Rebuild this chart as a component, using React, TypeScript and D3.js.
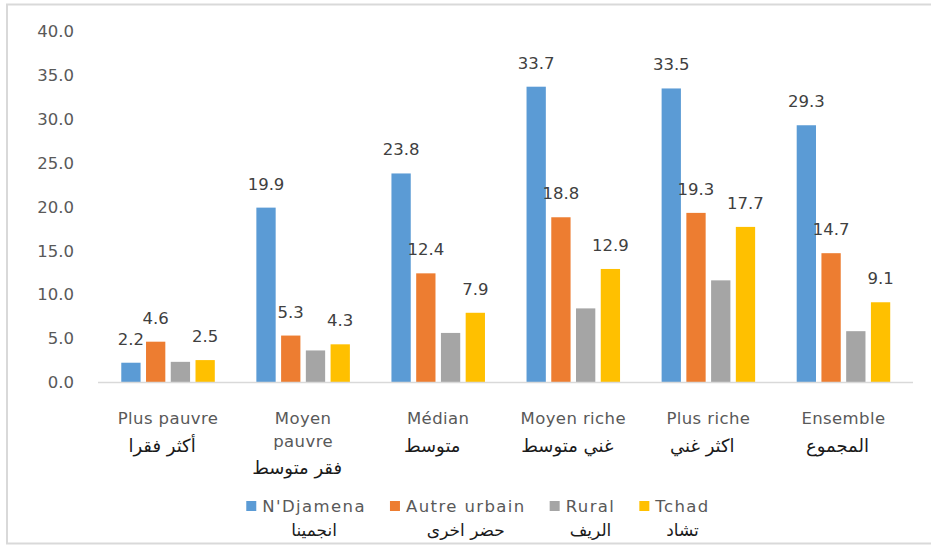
import React, { useRef, useEffect } from "react";
import * as d3 from "d3";

// catégories (français / arabe)
const categories = ["Plus pauvre", "Moyen pauvre", "Médian", "Moyen riche", "Plus riche", "Ensemble"];
const categoriesAr = ["أكثر فقرا", "فقر متوسط", "متوسط", "غني متوسط", "اكثر غني", "المجموع"];

// séries
const seriesNames = ["N'Djamena", "Autre urbain", "Rural", "Tchad"];
const seriesNamesAr = ["انجمينا", "حضر اخرى", "الريف", "تشاد"];
const seriesColors = ["#5B9BD5", "#ED7D31", "#A5A5A5", "#FFC000"];

const ndjamena = [2.2, 19.9, 23.8, 33.7, 33.5, 29.3];
const autreUrbain = [4.6, 5.3, 12.4, 18.8, 19.3, 14.7];
const rural = [2.3, 3.6, 5.6, 8.4, 11.6, 5.8];
const tchad = [2.5, 4.3, 7.9, 12.9, 17.7, 9.1];
// le rural n'a pas d'étiquette dans l'original
const showLabel = [true, true, false, true];

const yTicks = [0, 5, 10, 15, 20, 25, 30, 35, 40];

const W = 931;
const H = 547;
const FONT = "'DejaVu Sans', sans-serif";

export default function App() {
  const svgRef = useRef<SVGSVGElement | null>(null);

  useEffect(() => {
    const svg = d3.select(svgRef.current);
    svg.selectAll("*").remove();

    const values = [ndjamena, autreUrbain, rural, tchad];

    // bordure du graphique
    svg.append("rect")
      .attr("x", 7).attr("y", 4.5)
      .attr("width", W + 10).attr("height", 539)
      .attr("fill", "white")
      .attr("stroke", "#D9D9D9")
      .attr("stroke-width", 2);

    const x = d3.scaleBand().domain(categories).range([100.5, 911]).padding(0);
    const xInner = d3.scaleBand<number>()
      .domain([0, 1, 2, 3])
      .range([0, x.bandwidth()])
      .paddingInner(0.22)
      .paddingOuter(0.84);
    const y = d3.scaleLinear().domain([0, 40]).range([382, 31.5]);

    // axe Y (étiquettes seulement)
    svg.append("g")
      .selectAll("text")
      .data(yTicks)
      .join("text")
        .attr("x", 74)
        .attr("y", d => y(d))
        .attr("dy", "0.36em")
        .attr("text-anchor", "end")
        .style("font-family", FONT)
        .style("font-size", "16.5px")
        .style("fill", "#595959")
        .text(d => d.toFixed(1));

    // barres
    const groups = svg.append("g")
      .selectAll("g")
      .data(categories)
      .join("g")
        .attr("transform", d => `translate(${x(d)},0)`);

    values.forEach((serie, si) => {
      groups.append("rect")
        .attr("x", xInner(si)!)
        .attr("width", xInner.bandwidth())
        .attr("y", (_, i) => y(serie[i]))
        .attr("height", (_, i) => y(0) - y(serie[i]))
        .attr("fill", seriesColors[si]);

      if (showLabel[si]) {
        groups.append("text")
          .attr("x", xInner(si)! + xInner.bandwidth() / 2)
          .attr("y", (_, i) => y(serie[i]) - 18)
          .attr("text-anchor", "middle")
          .style("font-family", FONT)
          .style("font-size", "16.5px")
          .style("fill", "#404040")
          .text((_, i) => serie[i].toFixed(1));
      }
    });

    // ligne de l'axe X
    svg.append("line")
      .attr("x1", 98).attr("x2", 913)
      .attr("y1", y(0) + 0.5).attr("y2", y(0) + 0.5)
      .attr("stroke", "#D9D9D9")
      .attr("stroke-width", 1.5);

    // étiquettes des catégories
    const catG = svg.append("g");
    categories.forEach((c, i) => {
      const cx = x(c)! + x.bandwidth() / 2;
      const lines = c === "Moyen pauvre" ? ["Moyen", "pauvre"] : [c];
      lines.forEach((l, li) => {
        catG.append("text")
          .attr("x", cx)
          .attr("y", 424 + li * 23)
          .attr("text-anchor", "middle")
          .style("font-family", FONT)
          .style("font-size", "16.5px")
          .style("letter-spacing", "0.4px")
          .style("fill", "#595959")
          .text(l);
      });
      catG.append("text")
        .attr("x", cx - 6)
        .attr("y", 452 + (lines.length - 1) * 22)
        .attr("text-anchor", "middle")
        .style("font-family", FONT)
        .style("font-size", "18px")
        .style("fill", "#1a1a1a")
        .text(categoriesAr[i]);
    });

    // légende
    const leg = svg.append("g");
    const items = seriesNames.map((name, i) => {
      const g = leg.append("g");
      g.append("rect")
        .attr("x", 0).attr("y", -5)
        .attr("width", 10).attr("height", 10)
        .attr("fill", seriesColors[i]);
      const t = g.append("text")
        .attr("x", 16)
        .attr("dy", "0.36em")
        .style("font-family", FONT)
        .style("font-size", "16.5px")
        .style("letter-spacing", "1.4px")
        .style("fill", "#595959")
        .text(name);
      const tw = (t.node() as SVGTextElement).getComputedTextLength();
      return { g, w: 16 + tw, tw };
    });
    const gap = 24;
    const total = d3.sum(items, d => d.w) + gap * (items.length - 1);
    let cx = 478 - total / 2;
    items.forEach((it, i) => {
      it.g.attr("transform", `translate(${cx},506)`);
      leg.append("text")
        .attr("x", cx + 16 + it.tw / 2)
        .attr("y", 536)
        .attr("text-anchor", "middle")
        .style("font-family", FONT)
        .style("font-size", "17px")
        .style("fill", "#1a1a1a")
        .text(seriesNamesAr[i]);
      cx += it.w + gap;
    });
  }, []);

  return (
    <svg
      ref={svgRef}
      width={W}
      height={H}
      style={{ position: "absolute", left: 0, top: 0, background: "white" }}
    />
  );
}
